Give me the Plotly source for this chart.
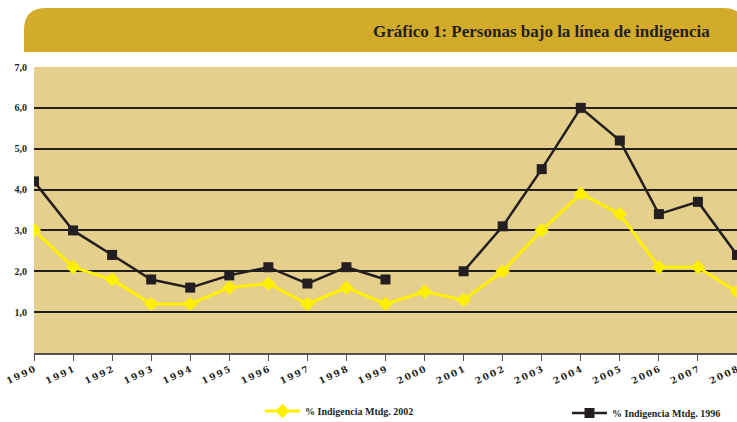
import plotly.graph_objects as go

years = list(range(1990, 2009))
year_labels = ["\u2009".join(str(y)) for y in years]
serie_2002 = [3.0, 2.1, 1.8, 1.2, 1.2, 1.6, 1.7, 1.2, 1.6, 1.2, 1.5, 1.3, 2.0, 3.0, 3.9, 3.4, 2.1, 2.1, 1.5]
serie_1996 = [4.2, 3.0, 2.4, 1.8, 1.6, 1.9, 2.1, 1.7, 2.1, 1.8, None, 2.0, 3.1, 4.5, 6.0, 5.2, 3.4, 3.7, 2.4]
y_ticks = [1, 2, 3, 4, 5, 6, 7]
y_labels = ["1,0", "2,0", "3,0", "4,0", "5,0", "6,0", "7,0"]
title = "Gráfico 1: Personas bajo la línea de indigencia"
name_2002 = "% Indigencia Mtdg. 2002"
name_1996 = "% Indigencia Mtdg. 1996"

W, H = 737, 422
L, R, T, B = 34, 0, 67, 69
pw, ph = W - L - R, H - T - B

def px(x):
    return (x - L) / pw

def py(y):
    return (H - B - y) / ph

fig = go.Figure()
fig.add_trace(go.Scatter(x=years, y=serie_2002, name=name_2002, mode="lines+markers",
                         line=dict(color="#FFF000", width=3),
                         marker=dict(symbol="diamond", size=11, color="#FFF000"),
                         legend="legend"))
fig.add_trace(go.Scatter(x=years, y=serie_1996, name=name_1996, mode="lines+markers",
                         connectgaps=False,
                         line=dict(color="#231F20", width=2.5),
                         marker=dict(symbol="square", size=10, color="#231F20"),
                         legend="legend2"))

# header band with rounded top corners
x0, x1 = px(24), px(745)
y0, y1 = py(52), py(8)
rx = 22 / pw
ry = 22 / ph
path = (f"M {x0},{y0} L {x0},{y1-ry} Q {x0},{y1} {x0+rx},{y1} "
        f"L {x1-rx},{y1} Q {x1},{y1} {x1},{y1-ry} L {x1},{y0} Z")
fig.add_shape(type="path", path=path, xref="paper", yref="paper",
              fillcolor="#D3AB2B", line=dict(width=0), layer="below")
fig.add_annotation(text=f"<b>{title}</b>", xref="paper", yref="paper",
                   x=px(712), y=py(31), xanchor="right", yanchor="middle",
                   showarrow=False,
                   font=dict(family="Liberation Serif", size=17, color="#231F20"))

legend_font = dict(size=10, family="Liberation Serif", color="#231F20", weight="bold")
fig.update_layout(
    width=W, height=H,
    margin=dict(l=L, r=R, t=T, b=B, pad=0, autoexpand=False),
    paper_bgcolor="white",
    plot_bgcolor="#E4CF8D",
    font=dict(family="Liberation Serif", color="#231F20"),
    showlegend=True,
    legend=dict(orientation="h", x=px(260), y=py(411), xanchor="left", yanchor="middle",
                font=legend_font, itemwidth=35, bgcolor="rgba(0,0,0,0)"),
    legend2=dict(orientation="h", x=px(567), y=py(413), xanchor="left", yanchor="middle",
                 font=legend_font, itemwidth=35, bgcolor="rgba(0,0,0,0)"),
)
fig.update_xaxes(range=[1990, 2008], tickmode="array", tickvals=years, ticktext=year_labels,
                 tickangle=-25, ticks="outside", ticklen=6, tickcolor="#555",
                 showline=True, linecolor="#555", linewidth=2, showgrid=False, zeroline=False,
                 ticklabeloverflow="allow", automargin=False,
                 tickfont=dict(size=9, family="DejaVu Serif", color="#231F20", weight="bold"))
fig.update_yaxes(range=[0, 7], tickmode="array", tickvals=y_ticks, ticktext=y_labels,
                 showgrid=True, gridcolor="#231F20", gridwidth=2, zeroline=False,
                 showline=False, ticks="", ticklabelstandoff=6, automargin=False,
                 tickfont=dict(size=10, family="Liberation Serif", color="#231F20", weight="bold"))

fig.write_html("out.html", config={"displayModeBar": False},
               post_script="document.body.style.margin='0';document.body.style.overflow='hidden';")
